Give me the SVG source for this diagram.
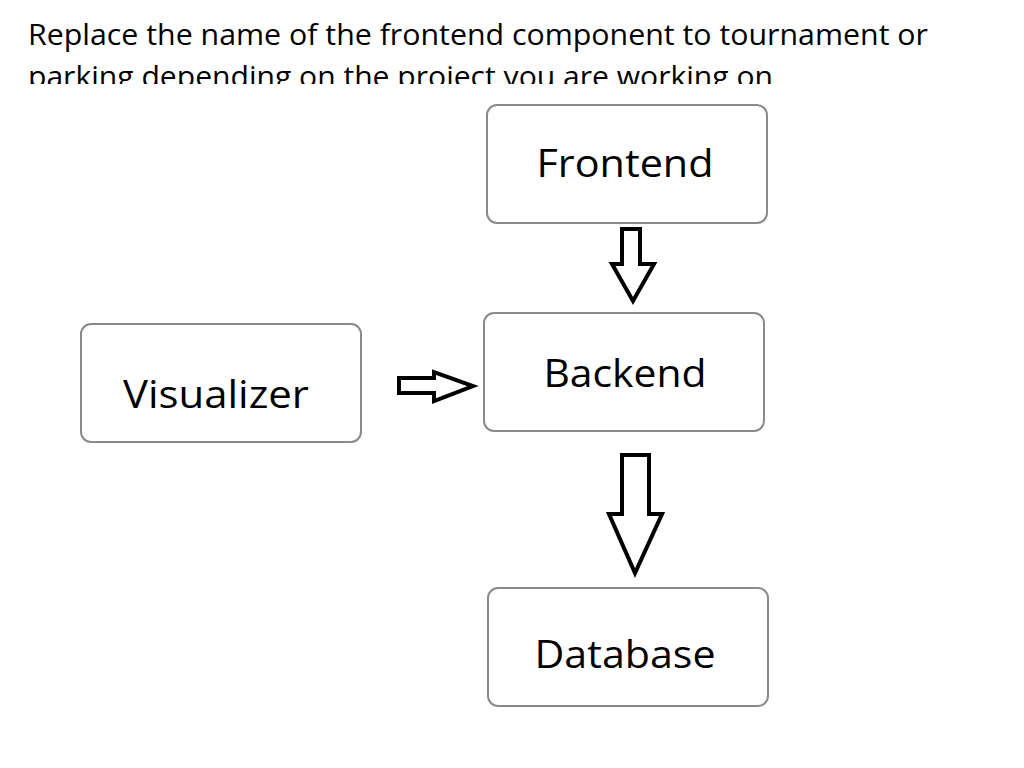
<svg xmlns="http://www.w3.org/2000/svg" width="1024" height="768" viewBox="0 0 1024 768">
<defs>
<style>
.box{fill:#fff;stroke:#8a8a8a;stroke-width:2}
.lbl{font-family:"Open Sans","Noto Sans",sans-serif;font-size:38px;fill:#000;text-anchor:middle}
.title{font-family:"Open Sans","Noto Sans",sans-serif;font-size:30px;fill:#000}
.arrow{fill:#fff;stroke:#000;stroke-width:4;stroke-linejoin:miter}
</style>
<clipPath id="clipTitle"><rect x="0" y="0" width="1024" height="84"/></clipPath>
</defs>
<rect width="1024" height="768" fill="#fff"/>
<g id="title" clip-path="url(#clipTitle)">
<text class="title" x="28" y="45" textLength="900" lengthAdjust="spacingAndGlyphs">Replace the name of the frontend component to tournament or</text>
<text class="title" x="28" y="87" textLength="745" lengthAdjust="spacingAndGlyphs">parking depending on the project you are working on</text>
</g>
<g id="connectors">
<path class="arrow" d="M622,229 H640 V264 H654 L633,301 L612,264 H622 Z"/>
<path class="arrow" d="M399,378 H434 V372 L473,386 L434,401 V393 H399 Z"/>
<path class="arrow" d="M622,455 H649 V514 H662 L635,573 L609,514 H622 Z"/>
</g>
<g id="frontend">
<rect class="box" x="487" y="105" width="280" height="118" rx="10"/>
<text class="lbl" x="625" y="177" textLength="177" lengthAdjust="spacingAndGlyphs">Frontend</text>
</g>
<g id="backend">
<rect class="box" x="484" y="313" width="280" height="118" rx="10"/>
<text class="lbl" x="625" y="387" textLength="163" lengthAdjust="spacingAndGlyphs">Backend</text>
</g>
<g id="visualizer">
<rect class="box" x="81" y="324" width="280" height="118" rx="10"/>
<text class="lbl" x="216" y="408" textLength="186" lengthAdjust="spacingAndGlyphs">Visualizer</text>
</g>
<g id="database">
<rect class="box" x="488" y="588" width="280" height="118" rx="10"/>
<text class="lbl" x="625" y="668" textLength="181" lengthAdjust="spacingAndGlyphs">Database</text>
</g>
</svg>
